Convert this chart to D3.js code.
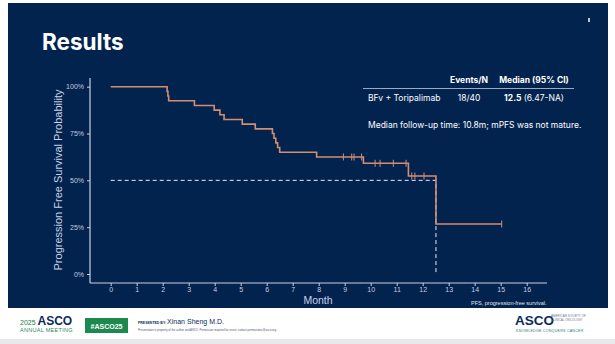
<!DOCTYPE html>
<html>
<head>
<meta charset="utf-8">
<script src="https://cdn.jsdelivr.net/npm/d3@7"></script>
<style>
  html, body { margin: 0; padding: 0; background: #ffffff; }
  svg { display: block; font-family: "Open Sans", "Liberation Sans", sans-serif; }
</style>
</head>
<body>
<svg id="chart" width="615" height="344"></svg>
<script>
// step times (months) and survival after each event
var eventTimes = [0, 2.17, 2.2, 2.23, 3.22, 3.98, 4.2, 4.36, 5.06, 5.56, 6.22, 6.28, 6.35, 6.42, 6.5, 7.92, 9.72, 11.45, 12.51];
var eventSurv  = [1, 0.975, 0.95, 0.925, 0.90, 0.875, 0.85, 0.825, 0.80, 0.775, 0.75, 0.725, 0.70, 0.675, 0.65, 0.625, 0.591, 0.523, 0.267];
var lastTime = 15.04;
// censor marks
var censorTimes = [8.95, 9.27, 9.36, 9.65, 10.17, 10.36, 10.87, 11.36, 11.58, 11.7, 12.05, 15.04];
var medianTime = 12.51;
var xTicks = d3.range(0, 17);
var yTicks = [0, 0.25, 0.5, 0.75, 1];

var svg = d3.select("#chart");
var navy = "#03234f";
var axisCol = "#c7d1e4";
var curveCol = "#d38d70";

// slide background
svg.append("rect").attr("x", 0).attr("y", 0).attr("width", 615).attr("height", 344).attr("fill", "#ffffff");
svg.append("rect").attr("x", 8).attr("y", 3).attr("width", 600).attr("height", 305).attr("fill", navy);
svg.append("rect").attr("x", 0).attr("y", 339).attr("width", 615).attr("height", 5).attr("fill", "#e9e9ec");

svg.append("text").attr("x", 42).attr("y", 50)
  .attr("fill", "#ffffff").attr("font-family", "Inter, 'Open Sans', sans-serif")
  .attr("font-weight", 700).attr("font-size", 22.5).text("Results");
svg.append("rect").attr("x", 588).attr("y", 18).attr("width", 2).attr("height", 4).attr("fill", "#b8c4dc");

// scales
var x = d3.scaleLinear().domain([0, 16]).range([110.7, 526.7]);
var y = d3.scaleLinear().domain([0, 1]).range([274, 86.7]);

// axes
var xAxis = svg.append("g").attr("transform", "translate(0,283)")
  .call(d3.axisBottom(x).tickValues(xTicks).tickSize(3).tickPadding(1.5).tickFormat(d3.format("d")));
xAxis.select(".domain").attr("d", "M90,0H547");
var yAxis = svg.append("g").attr("transform", "translate(90,0)")
  .call(d3.axisLeft(y).tickValues(yTicks).tickSize(3).tickPadding(3).tickFormat(d3.format(".0%")));
yAxis.select(".domain").attr("d", "M0,78V283");
svg.selectAll(".domain").attr("stroke", axisCol).attr("stroke-width", 1.2);
svg.selectAll(".tick line").attr("stroke", axisCol);
svg.selectAll(".tick text").attr("fill", "#c3cde0").attr("font-size", 7)
  .attr("font-family", "'Liberation Sans', Arial, sans-serif");

svg.append("text").attr("transform", "translate(62,180) rotate(-90)")
  .attr("text-anchor", "middle").attr("fill", "#c9d2e4").attr("font-size", 11)
  .attr("font-family", "'Liberation Sans', Arial, sans-serif")
  .text("Progression Free Survival Probability");
svg.append("text").attr("x", 318).attr("y", 304)
  .attr("text-anchor", "middle").attr("fill", "#c9d2e4").attr("font-size", 10.5)
  .attr("font-family", "'Liberation Sans', Arial, sans-serif").text("Month");

// median reference
svg.append("path")
  .attr("d", "M" + x(0) + "," + y(0.5) + "H" + x(medianTime) + "V" + y(0))
  .attr("fill", "none").attr("stroke", "#e6ecf7").attr("stroke-width", 1)
  .attr("stroke-dasharray", "4,3");

// KM step curve
var pts = eventTimes.map(function (t, i) { return [t, eventSurv[i]]; });
pts.push([lastTime, eventSurv[eventSurv.length - 1]]);
var line = d3.line().x(function (d) { return x(d[0]); }).y(function (d) { return y(d[1]); }).curve(d3.curveStepAfter);
svg.append("path").datum(pts).attr("d", line)
  .attr("fill", "none").attr("stroke", curveCol).attr("stroke-width", 1.6);

function survAt(t) {
  var s = 1;
  eventTimes.forEach(function (et, i) { if (et <= t) s = eventSurv[i]; });
  return s;
}
svg.append("g").selectAll("line").data(censorTimes).join("line")
  .attr("x1", function (d) { return x(d); }).attr("x2", function (d) { return x(d); })
  .attr("y1", function (d) { return y(survAt(d)) - 3.5; })
  .attr("y2", function (d) { return y(survAt(d)) + 3.5; })
  .attr("stroke", curveCol).attr("stroke-width", 1);

// summary table
var tf = "Inter, 'Open Sans', sans-serif";
svg.append("text").attr("x", 469).attr("y", 83).attr("text-anchor", "middle")
  .attr("fill", "#fff").attr("font-family", tf).attr("font-weight", 700).attr("font-size", 8.5).text("Events/N");
svg.append("text").attr("x", 534).attr("y", 83).attr("text-anchor", "middle")
  .attr("fill", "#fff").attr("font-family", tf).attr("font-weight", 700).attr("font-size", 8.5).text("Median (95% CI)");
svg.append("line").attr("x1", 363).attr("x2", 574).attr("y1", 88.5).attr("y2", 88.5)
  .attr("stroke", "#9aa9c6").attr("stroke-width", 1.2);
svg.append("text").attr("x", 368).attr("y", 101)
  .attr("fill", "#fff").attr("font-family", tf).attr("font-size", 8.5).text("BFv + Toripalimab");
svg.append("text").attr("x", 469).attr("y", 101).attr("text-anchor", "middle")
  .attr("fill", "#fff").attr("font-family", tf).attr("font-size", 8.5).text("18/40");
var med = svg.append("text").attr("x", 534).attr("y", 101).attr("text-anchor", "middle")
  .attr("fill", "#fff").attr("font-family", tf).attr("font-size", 8.5);
med.append("tspan").attr("font-weight", 700).text("12.5");
med.append("tspan").text(" (6.47-NA)");
svg.append("text").attr("x", 368).attr("y", 128)
  .attr("fill", "#fff").attr("font-family", tf).attr("font-size", 8.5)
  .text("Median follow-up time: 10.8m; mPFS was not mature.");

svg.append("text").attr("x", 471).attr("y", 305)
  .attr("fill", "#e0e6f2").attr("font-family", "'Liberation Sans', Arial, sans-serif")
  .attr("font-size", 5.5).text("PFS, progression-free survival.");

// footer
var ff = "'Liberation Sans', Arial, sans-serif";
var f1 = svg.append("text").attr("x", 20).attr("y", 325).attr("font-family", ff);
f1.append("tspan").attr("fill", "#1f7a4a").attr("font-size", 7).text("2025 ");
f1.append("tspan").attr("fill", "#0b2b5c").attr("font-size", 12).attr("font-weight", 700).text("ASCO");
svg.append("text").attr("x", 20).attr("y", 332).attr("fill", "#2d8a5a").attr("font-family", ff)
  .attr("font-size", 5.5).attr("letter-spacing", 0.3).text("ANNUAL MEETING");
svg.append("rect").attr("x", 85).attr("y", 318).attr("width", 43).attr("height", 15).attr("fill", "#1c8a4f");
svg.append("text").attr("x", 106.5).attr("y", 328.5).attr("text-anchor", "middle").attr("fill", "#fff")
  .attr("font-family", ff).attr("font-weight", 700).attr("font-size", 7).text("#ASCO25");
var pr = svg.append("text").attr("x", 138).attr("y", 324).attr("font-family", ff).attr("fill", "#0b2b5c");
pr.append("tspan").attr("font-size", 3.5).attr("font-weight", 700).text("PRESENTED BY: ");
pr.append("tspan").attr("font-size", 7).text("Xinan Sheng M.D.");
svg.append("text").attr("x", 138).attr("y", 331).attr("font-family", ff).attr("fill", "#4a5570")
  .attr("font-size", 2.8).text("Presentation is property of the author and ASCO. Permission required for reuse; contact permissions@asco.org.");
svg.append("text").attr("x", 515).attr("y", 325).attr("font-family", ff).attr("fill", "#0b2b5c")
  .attr("font-size", 13.5).attr("font-weight", 700).text("ASCO");
svg.append("text").attr("x", 551).attr("y", 317).attr("font-family", ff).attr("fill", "#6b7590")
  .attr("font-size", 3).text("AMERICAN SOCIETY OF");
svg.append("text").attr("x", 551).attr("y", 321).attr("font-family", ff).attr("fill", "#6b7590")
  .attr("font-size", 3).text("CLINICAL ONCOLOGY");
svg.append("text").attr("x", 516).attr("y", 332).attr("font-family", ff).attr("fill", "#1f7a7a")
  .attr("font-size", 3.6).attr("letter-spacing", 0.25).text("KNOWLEDGE CONQUERS CANCER");
</script>
</body>
</html>
